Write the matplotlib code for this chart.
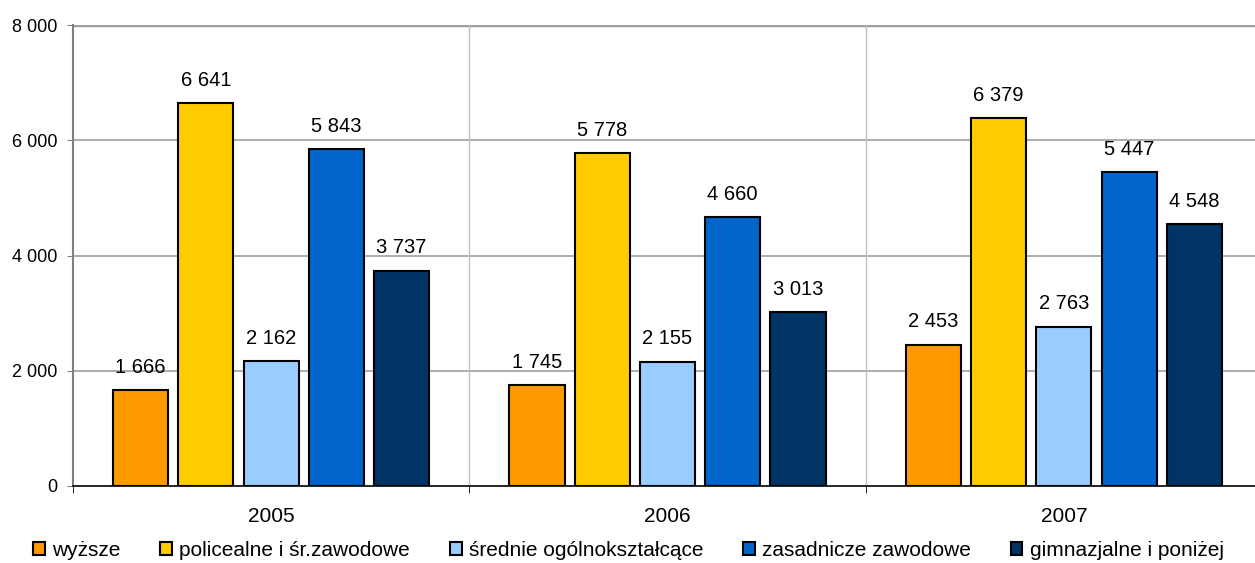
import matplotlib
matplotlib.use("Agg")
import matplotlib.pyplot as plt
import numpy as np

years = ["2005", "2006", "2007"]
series = ["wyższe", "policealne i śr.zawodowe", "średnie ogólnokształcące",
          "zasadnicze zawodowe", "gimnazjalne i poniżej"]
values = {
    "wyższe": [1666, 1745, 2453],
    "policealne i śr.zawodowe": [6641, 5778, 6379],
    "średnie ogólnokształcące": [2162, 2155, 2763],
    "zasadnicze zawodowe": [5843, 4660, 5447],
    "gimnazjalne i poniżej": [3737, 3013, 4548],
}
colors = ["#FF9900", "#FFCC00", "#99CCFF", "#0066CC", "#003366"]
yticks = [0, 2000, 4000, 6000, 8000]

def fmt(v):
    return f"{int(v):,}".replace(",", " ")

plt.rcParams['font.family'] = ['Liberation Sans', 'DejaVu Sans']

fig = plt.figure(figsize=(12.55, 5.63), dpi=100)
W, H = 1255, 563
ax = fig.add_axes([73 / W, 1 - 486 / H, (1262 - 73) / W, (486 - 25) / H])

x = np.arange(len(years))
step = 0.1646
width = 0.139
for i, (s, c) in enumerate(zip(series, colors)):
    pos = x + (i - 2) * step
    ax.bar(pos, values[s], width=width, color=c, edgecolor="black",
           linewidth=1.5, label=s, zorder=3)
    for p, v in zip(pos, values[s]):
        ax.annotate(fmt(v), (p, v), xytext=(0, 12.5), textcoords="offset points",
                    ha="center", va="baseline", fontsize=14.5)

ax.set_xlim(-0.5, 2.5)
ax.set_ylim(0, 8000)
ax.set_yticks(yticks)
ax.set_yticklabels([fmt(v) for v in yticks], fontsize=13)
ax.set_xticks(x)
ax.set_xticklabels(years, fontsize=15)
ax.tick_params(axis="x", which="major", length=0, pad=15)
ax.set_xticks([-0.5, 0.5, 1.5, 2.5], minor=True)
ax.tick_params(axis="x", which="minor", length=5, direction="out", color="black")
ax.tick_params(axis="y", length=4, direction="out", color="#808080", pad=7)

for yv in yticks[1:]:
    ax.axhline(yv, color="#A0A0A0", linewidth=1.2 if yv < 8000 else 2.5, zorder=1)
for xv in [0.5, 1.5]:
    ax.axvline(xv, color="#C0C0C0", linewidth=1.0, zorder=1)

ax.spines["top"].set_visible(False)
ax.spines["right"].set_visible(False)
ax.spines["left"].set_color("#808080")
ax.spines["left"].set_linewidth(1.5)
ax.spines["bottom"].set_color("black")
ax.spines["bottom"].set_linewidth(1.2)
ax.spines["bottom"].set_zorder(4)

handles, labels = ax.get_legend_handles_labels()
leg = fig.legend(handles, labels, loc="center left", bbox_to_anchor=(33 / W, 1 - 550 / H),
                 ncol=5, frameon=False, fontsize=15, handlelength=0.57, handleheight=0.57,
                 handletextpad=0.35, columnspacing=1.9, borderaxespad=0, borderpad=0)
for h in leg.legend_handles:
    h.set_linewidth(1.5)

fig.savefig("out.png", dpi=100)
